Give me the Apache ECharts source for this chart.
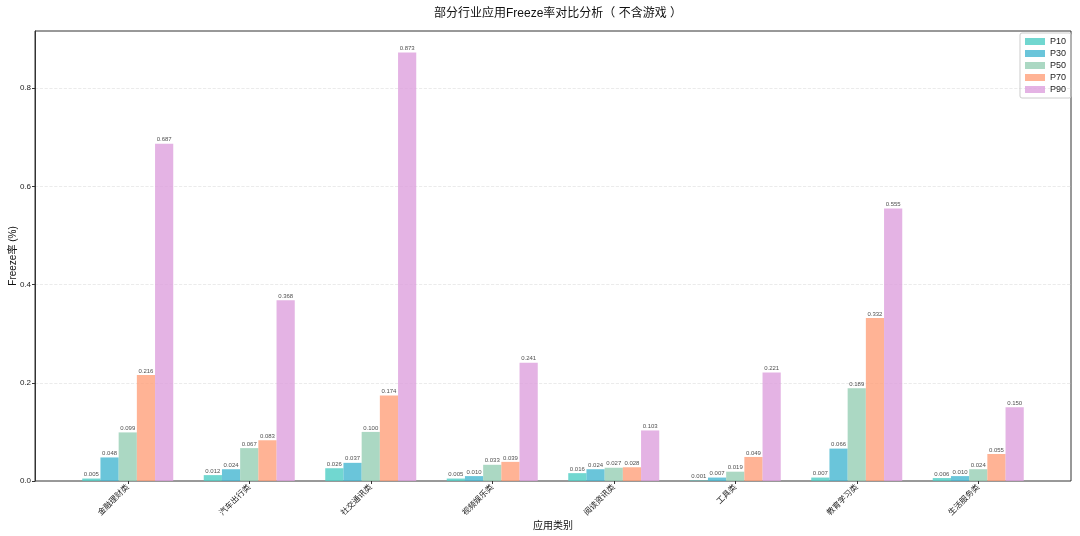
<!DOCTYPE html>
<html><head><meta charset="utf-8">
<script src="https://cdn.jsdelivr.net/npm/echarts@6/dist/echarts.min.js"></script>
<style>html,body{margin:0;padding:0;background:#fff}#c{width:1080px;height:536px}</style>
</head><body><div id="c"></div>
<script>
const categories = ['金融理财类','汽车出行类','社交通讯类','视频娱乐类','阅读资讯类','工具类','教育学习类','生活服务类'];
const seriesNames = ['P10','P30','P50','P70','P90'];
const p10 = [0.005,0.012,0.026,0.005,0.016,0.001,0.007,0.006];
const p30 = [0.048,0.024,0.037,0.010,0.024,0.007,0.066,0.010];
const p50 = [0.099,0.067,0.100,0.033,0.027,0.019,0.189,0.024];
const p70 = [0.216,0.083,0.174,0.039,0.028,0.049,0.332,0.055];
const p90 = [0.687,0.368,0.873,0.241,0.103,0.221,0.555,0.150];
const yTicks = [0.0,0.2,0.4,0.6,0.8];
const colors = ['#4ECDC4','#45B7D1','#96CEB4','#FFA07A','#DDA0DD'];
const allData = [p10,p30,p50,p70,p90];
const yMax = 0.9167;
const font = 'Arial, "Liberation Sans", "Noto Sans CJK SC", sans-serif';

const chart = echarts.init(document.getElementById('c'));
chart.setOption({
  animation:false,
  backgroundColor:'#fff',
  textStyle:{fontFamily:font},
  title:{text:'部分行业应用Freeze率对比分析（ 不含游戏 ）',left:553,textAlign:'center',top:3,
    textStyle:{fontSize:12,fontWeight:'normal',color:'#111',fontFamily:font}},
  legend:{data:seriesNames,orient:'vertical',right:9,top:33,itemWidth:20,itemHeight:7,itemGap:3,
    textStyle:{fontSize:9,color:'#222'},borderColor:'#ccc',borderWidth:1,borderRadius:2,padding:[4,5,4,5],
    icon:'rect'},
  grid:[
    {left:35,right:9,top:31,bottom:55,show:true,borderColor:'#333',borderWidth:1,backgroundColor:'transparent',outerBoundsMode:'none',containLabel:false},
    {left:67,right:41,top:31,bottom:55,outerBoundsMode:'none',containLabel:false}
  ],
  xAxis:[
    {gridIndex:0,type:'value',min:0,max:1,show:false},
    {gridIndex:1,type:'category',data:categories,
     axisLine:{show:false},axisTick:{show:true,alignWithLabel:true,length:3,lineStyle:{color:'#333'}},
     axisLabel:{rotate:45,fontSize:8,color:'#222',margin:5,interval:0},
     name:'应用类别',nameLocation:'middle',nameGap:40,nameMoveOverlap:false,nameTextStyle:{fontSize:10,color:'#111'}}
  ],
  yAxis:[
    {gridIndex:0,type:'value',min:0,max:yMax,interval:0.2,
     axisLine:{show:true,lineStyle:{color:'#333'}},axisTick:{show:true,length:3,lineStyle:{color:'#333'}},
     axisLabel:{fontSize:8,color:'#222',margin:4,showMaxLabel:false,
       formatter:v=>{const t=yTicks.find(x=>Math.abs(x-v)<1e-6);return t===undefined?'':t.toFixed(1);}},
     splitLine:{show:true,showMinLine:false,showMaxLine:false,lineStyle:{color:'#e6e6e6',type:'dashed',width:0.8}},
     name:'Freeze率 (%)',nameLocation:'middle',nameGap:17,nameRotate:90,nameMoveOverlap:false,nameTextStyle:{fontSize:10,color:'#111'}},
    {gridIndex:1,type:'value',min:0,max:yMax,show:false,splitLine:{show:false}}
  ],
  series: seriesNames.map((n,i)=>({
    name:n,type:'bar',xAxisIndex:1,yAxisIndex:1,data:allData[i],
    barWidth:18.2,barGap:'0%',
    itemStyle:{color:colors[i],opacity:0.8},
    label:{show:true,position:'top',distance:1,fontSize:6,color:'#222',formatter:p=>p.value.toFixed(3)}
  }))
});
</script></body></html>
